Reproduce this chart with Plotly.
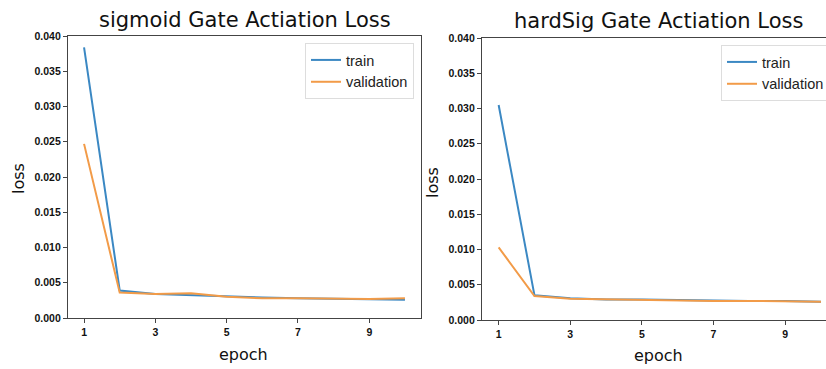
import plotly.graph_objects as go

epochs = [1, 2, 3, 4, 5, 6, 7, 8, 9, 10]
sig_train = [0.0384, 0.0039, 0.0034, 0.0032, 0.0030, 0.0029, 0.0028, 0.0027, 0.0026, 0.0026]
sig_val = [0.0247, 0.0036, 0.0034, 0.0035, 0.0030, 0.0028, 0.0028, 0.0027, 0.0027, 0.0028]
hs_train = [0.0305, 0.0035, 0.0031, 0.0029, 0.0029, 0.0028, 0.0027, 0.0027, 0.0027, 0.0026]
hs_val = [0.0103, 0.0034, 0.0030, 0.0029, 0.0028, 0.0028, 0.0027, 0.0027, 0.0027, 0.0026]
titles = ["sigmoid Gate Actiation Loss", "hardSig Gate Actiation Loss"]
yticks = [0.0, 0.005, 0.010, 0.015, 0.020, 0.025, 0.030, 0.035, 0.040]
ytext = ["<b>%.3f</b>" % v for v in yticks]
xticks = [1, 3, 5, 7, 9]
xtext = ["<b>%d</b>" % v for v in xticks]

W, H = 826, 369
BLUE = "#3b88c3"
ORANGE = "#f29b48"

fig = go.Figure()
fig.add_trace(go.Scatter(x=epochs, y=sig_train, mode="lines", name="train",
                         line=dict(color=BLUE, width=2), xaxis="x", yaxis="y", legend="legend"))
fig.add_trace(go.Scatter(x=epochs, y=sig_val, mode="lines", name="validation",
                         line=dict(color=ORANGE, width=2), xaxis="x", yaxis="y", legend="legend"))
fig.add_trace(go.Scatter(x=epochs, y=hs_train, mode="lines", name="train",
                         line=dict(color=BLUE, width=2), xaxis="x2", yaxis="y2", legend="legend2"))
fig.add_trace(go.Scatter(x=epochs, y=hs_val, mode="lines", name="validation",
                         line=dict(color=ORANGE, width=2), xaxis="x2", yaxis="y2", legend="legend2"))

tickfont = dict(family="Liberation Sans", size=10.5, color="#111111")
axis_common = dict(showgrid=False, zeroline=False, ticks="outside", ticklen=4, tickwidth=1,
                   tickcolor="#444444", linecolor="#444444", linewidth=1.3, showline=True,
                   tickfont=tickfont, automargin=False)

fig.update_layout(
    width=W, height=H, margin=dict(l=0, r=0, t=0, b=0, autoexpand=False),
    paper_bgcolor="white", plot_bgcolor="white", showlegend=True,
    xaxis=dict(domain=[68 / W, 421 / W], range=[0.55, 10.45], tickvals=xticks, ticktext=xtext,
               anchor="y", mirror=True, **axis_common),
    yaxis=dict(domain=[1 - 318 / H, 1 - 36 / H], range=[0, 0.040], tickvals=yticks, ticktext=ytext,
               anchor="x", mirror=True, **axis_common),
    xaxis2=dict(domain=[482 / W, 1.0], range=[0.535, 10.14], tickvals=xticks, ticktext=xtext,
                anchor="y2", mirror=True, **axis_common),
    yaxis2=dict(domain=[1 - 320 / H, 1 - 38 / H], range=[0, 0.040], tickvals=yticks, ticktext=ytext,
                anchor="x2", mirror=False, **axis_common),
    legend=dict(x=414 / W, xanchor="right", y=1 - 43 / H, yanchor="top",
                bgcolor="white", bordercolor="#dddddd", borderwidth=1,
                font=dict(family="Liberation Sans", size=14.5, color="#222222"),
                itemwidth=30, tracegroupgap=0),
    legend2=dict(x=721 / W, xanchor="left", y=1 - 45 / H, yanchor="top",
                 bgcolor="white", bordercolor="#dddddd", borderwidth=1,
                 font=dict(family="Liberation Sans", size=14.5, color="#222222"),
                 itemwidth=30, tracegroupgap=0),
)

annotations = [
    dict(text=titles[0], x=245 / W, y=1 - 20 / H, xref="paper", yref="paper",
         showarrow=False, font=dict(family="DejaVu Sans", size=21, color="#111111"),
         xanchor="center", yanchor="middle"),
    dict(text=titles[1], x=658 / W, y=1 - 21 / H, xref="paper", yref="paper",
         showarrow=False, font=dict(family="DejaVu Sans", size=21, color="#111111"),
         xanchor="center", yanchor="middle"),
    dict(text="epoch", x=244 / W, y=1 - 354 / H, xref="paper", yref="paper",
         showarrow=False, font=dict(family="DejaVu Sans", size=16, color="#111111"),
         xanchor="center", yanchor="middle"),
    dict(text="epoch", x=658 / W, y=1 - 355 / H, xref="paper", yref="paper",
         showarrow=False, font=dict(family="DejaVu Sans", size=16, color="#111111"),
         xanchor="center", yanchor="middle"),
    dict(text="loss", x=18 / W, y=1 - 179 / H, xref="paper", yref="paper", textangle=-90,
         showarrow=False, font=dict(family="DejaVu Sans", size=16, color="#111111"),
         xanchor="center", yanchor="middle"),
    dict(text="loss", x=433 / W, y=1 - 183 / H, xref="paper", yref="paper", textangle=-90,
         showarrow=False, font=dict(family="DejaVu Sans", size=16, color="#111111"),
         xanchor="center", yanchor="middle"),
]
fig.update_layout(annotations=annotations)

fig.write_html("out.html", config={"displayModeBar": False},
               post_script="document.body.style.margin='0';document.body.style.overflow='hidden';")
